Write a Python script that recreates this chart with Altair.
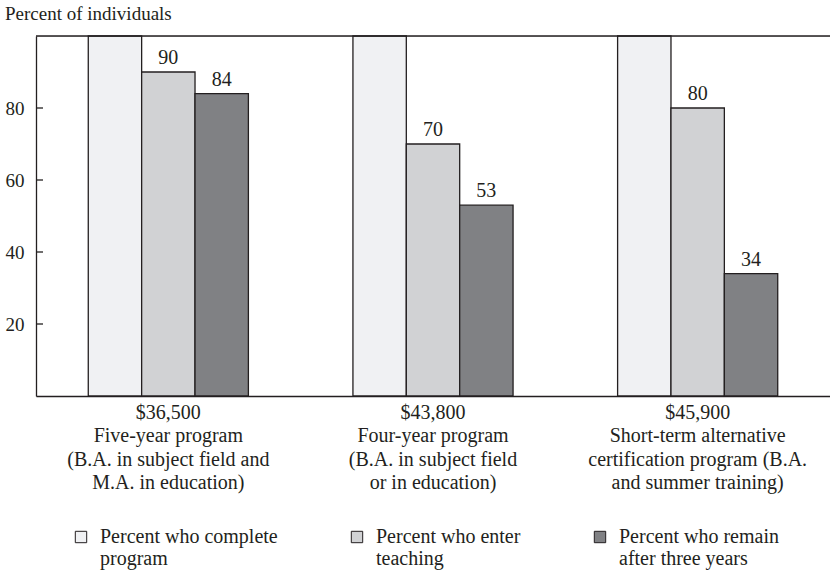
import altair as alt
import pandas as pd

# Programs (x categories); "|" marks a line break in the axis label
programs = [
    "$36,500|Five-year program|(B.A. in subject field and|M.A. in education)",
    "$43,800|Four-year program|(B.A. in subject field|or in education)",
    "$45,900|Short-term alternative|certification program (B.A.|and summer training)",
]
# Series; "|" marks a line break in the legend label
series = [
    "Percent who complete|program",
    "Percent who enter|teaching",
    "Percent who remain|after three years",
]
complete_pct = [100, 100, 100]
enter_pct = [90, 70, 80]
remain_pct = [84, 53, 34]

y_ticks = [20, 40, 60, 80]
colors = ["#f0f1f3", "#d1d2d4", "#808184"]
ink = "#231f20"
FONT = "Liberation Serif"

rows = []
for i, p in enumerate(programs):
    for s, vals in zip(series, [complete_pct, enter_pct, remain_pct]):
        rows.append({"program": p, "series": s, "value": vals[i]})
df = pd.DataFrame(rows)
df["show"] = df["series"] != series[0]

ticks_df = pd.DataFrame({"t": y_ticks})
top_df = pd.DataFrame({"t": [100]})

x_enc = alt.X(
    "program:N",
    sort=programs,
    scale=alt.Scale(paddingInner=0.395, paddingOuter=0.1975),
    axis=alt.Axis(
        title=None,
        labelExpr="split(datum.label, '|')",
        labelAngle=0,
        labelFont=FONT,
        labelFontSize=20,
        labelLineHeight=23.5,
        labelColor=ink,
        labelPadding=6,
        labelLimit=400,
        ticks=False,
        domainColor=ink,
        domainWidth=1.3,
    ),
)
xoff = alt.XOffset("series:N", sort=series, scale=alt.Scale(paddingInner=0, paddingOuter=0))
y_enc = alt.Y(
    "value:Q",
    scale=alt.Scale(domain=[0, 100], nice=False),
    axis=alt.Axis(
        title=None,
        values=y_ticks,
        tickSize=0,
        labelPadding=12,
        labelFont=FONT,
        labelFontSize=19,
        labelColor=ink,
        grid=False,
        domainColor=ink,
        domainWidth=1.3,
    ),
)

base = alt.Chart(df)

bars = base.mark_bar(stroke=ink, strokeWidth=1.3).encode(
    x=x_enc,
    xOffset=xoff,
    y=y_enc,
    color=alt.Color(
        "series:N",
        sort=series,
        scale=alt.Scale(domain=series, range=colors),
        legend=alt.Legend(
            title=None,
            orient="none",
            legendX=35,
            legendY=491,
            direction="horizontal",
            columns=3,
            gridAlign="each",
            columnPadding=69,
            symbolType="square",
            symbolSize=130,
            symbolStrokeColor=ink,
            symbolStrokeWidth=1,
            labelExpr="split(datum.label, '|')",
            labelFont=FONT,
            labelFontSize=20,
            labelColor=ink,
            labelBaseline="middle",
            labelLimit=400,
            labelOffset=9,
        ),
    ),
)

labels = base.transform_filter("datum.show").mark_text(
    font=FONT, fontSize=20, color=ink, baseline="alphabetic", dy=-8
).encode(
    x=alt.X("program:N", sort=programs),
    xOffset=xoff,
    y="value:Q",
    text="value:Q",
)

ticks = alt.Chart(ticks_df).mark_rule(color=ink, strokeWidth=1.3).encode(
    y="t:Q", x=alt.value(0), x2=alt.value(7)
)
top_line = alt.Chart(top_df).mark_rule(color=ink, strokeWidth=1.3).encode(y="t:Q")

chart = (
    alt.layer(bars, labels, ticks, top_line)
    .properties(
        width=794,
        height=360,
        autosize=alt.AutoSizeParams(type="none"),
        padding={"left": 36, "top": 36, "right": 0, "bottom": 180},
        title=alt.TitleParams(
            "Percent of individuals",
            anchor="start",
            frame="bounds",
            font=FONT,
            fontSize=19,
            fontWeight="normal",
            color=ink,
            offset=11,
        ),
    )
    .configure_view(stroke=None)
    .configure(background="white")
)

chart.save("out.html", embed_options={"renderer": "svg", "actions": False})
